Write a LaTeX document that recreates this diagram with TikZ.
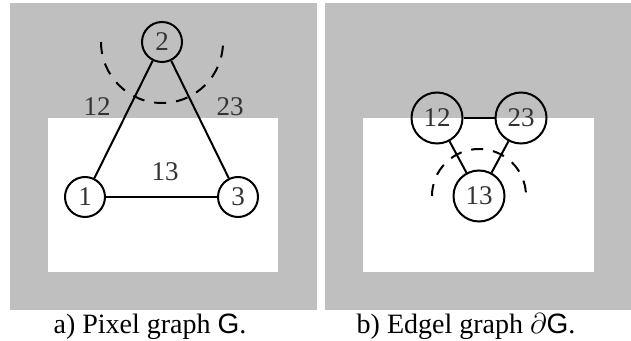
\documentclass[tikz,border=0pt]{standalone}
\usepackage{fontspec}
\setmainfont{Liberation Serif}
\setsansfont{Liberation Sans}
\begin{document}
\begin{tikzpicture}[x=0.5pt,y=-0.5pt,
  panel/.style={fill=black!25,draw=none},
  inner/.style={fill=white,draw=none},
  vtx/.style={circle,draw,line width=1pt,inner sep=0pt,minimum size=20pt,
    text=black!80,font=\fontsize{13.5}{15}\selectfont},
  evtx/.style={vtx,minimum size=25.5pt},
  link/.style={line width=1pt},
  ring/.style={line width=1pt,dash pattern=on 6pt off 5pt},
  lbl/.style={text=black!80,font=\fontsize{13.5}{15}\selectfont},
  caption/.style={anchor=base,font=\fontsize{14}{16}\selectfont}]
\useasboundingbox (0,0) rectangle (631,341);
% backgrounds of both panels
\fill[panel] (10,3) rectangle (317,310);
\fill[inner] (48,118) rectangle (278,272);
\fill[panel] (325,3) rectangle (631,310);
\fill[inner] (363,118) rectangle (594,272);

% a) pixel graph (y axis points down, so angle 90 is below)
\node[vtx] (p1) at (85,197) {1};
\node[vtx] (p2) at (162,42) {2};
\node[vtx] (p3) at (238,197) {3};
\draw[link] (p1) -- (p2);
\draw[link] (p2) -- (p3);
\draw[link] (p1) -- (p3);
\draw[ring] (p2.center) ++(180:61) arc[start angle=180,end angle=0,radius=61];
\node[lbl] (l12) at (97,107) {12};
\node[lbl] (l23) at (230,107) {23};
\node[lbl] (l13) at (165,172) {13};
\node[caption] (ca) at (150,334) {a) Pixel graph \textsf{G}.};

% b) edgel graph
\node[evtx] (e12) at (437,118) {12};
\node[evtx] (e23) at (521,118) {23};
\node[evtx] (e13) at (479,196) {13};
\draw[link] (e12) -- (e23);
\draw[link] (e12) -- (e13);
\draw[link] (e23) -- (e13);
\draw[ring] (e13.center) ++(180:47) arc[start angle=180,end angle=360,radius=47];
\node[caption] (cb) at (466,334) {b) Edgel graph $\partial$\textsf{G}.};
\end{tikzpicture}
\end{document}
